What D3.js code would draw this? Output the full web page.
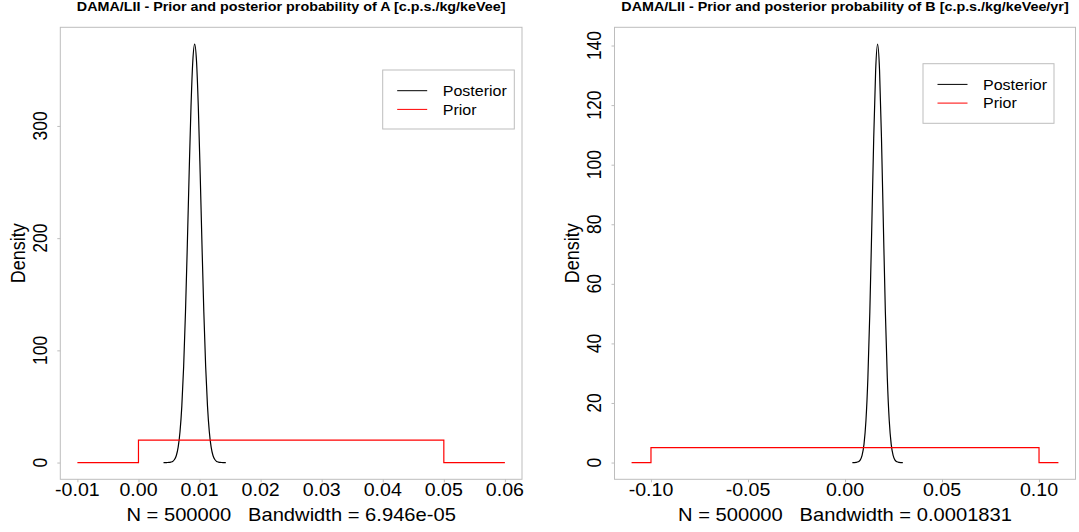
<!DOCTYPE html>
<html>
<head>
<meta charset="utf-8">
<script src="https://cdn.jsdelivr.net/npm/d3@7"></script>
<style>
  html, body { margin: 0; padding: 0; background: #fff; }
  svg { display: block; }
  text { font-family: "Liberation Sans", Arial, Helvetica, sans-serif; fill: #000; white-space: pre; }
</style>
</head>
<body>
<svg id="chart" width="1079" height="532"></svg>
<script>
// ---- Panel A: parameter A [c.p.s./kg/keVee] ----
const postA_x = [0.0041, 0.0044, 0.0047, 0.0050, 0.0053, 0.0056, 0.0059, 0.0062, 0.0065, 0.0068,
                 0.0071, 0.0074, 0.0077, 0.0080, 0.0083, 0.0086, 0.0089, 0.0092, 0.0095, 0.0098,
                 0.0101, 0.0104, 0.0107, 0.0110, 0.0113, 0.0116, 0.0119, 0.0122, 0.0125, 0.0128,
                 0.0131, 0.0134, 0.0137, 0.0140, 0.0143];
const postA_y = [0, 0, 0.04, 0.1, 0.4, 1.0, 2.7, 6.3, 13.7, 27.4,
                 50.5, 85.8, 134.4, 194.1, 258.3, 316.8, 358.1, 373, 358.1, 316.8,
                 258.3, 194.1, 134.4, 85.8, 50.5, 27.4, 13.7, 6.3, 2.7, 1.0,
                 0.4, 0.1, 0.04, 0, 0];
const priorA_x = [-0.01, 0, 0, 0.05, 0.05, 0.06];
const priorA_y = [0, 0, 20, 20, 0, 0];
const ticksA_x = [-0.01, 0, 0.01, 0.02, 0.03, 0.04, 0.05, 0.06];
const ticksA_y = [0, 100, 200, 300];

// ---- Panel B: parameter B [c.p.s./kg/keVee/yr] ----
const postB_x = [0.0038, 0.0048, 0.0058, 0.0068, 0.0078, 0.0088, 0.0098, 0.0108, 0.0118, 0.0128,
                 0.0138, 0.0148, 0.0158, 0.0168, 0.0178, 0.0188, 0.0198, 0.0208, 0.0218, 0.0228,
                 0.0238, 0.0248, 0.0258, 0.0268, 0.0278, 0.0288, 0.0298];
const postB_y = [0, 0.01, 0.06, 0.24, 0.8, 2.4, 6.2, 14.1, 28.5, 50.6,
                 79.1, 108.9, 131.8, 140.5, 131.8, 108.9, 79.1, 50.6, 28.5, 14.1,
                 6.2, 2.4, 0.8, 0.24, 0.06, 0.01, 0];
const priorB_x = [-0.11, -0.1, -0.1, 0.1, 0.1, 0.11];
const priorB_y = [0, 0, 5, 5, 0, 0];
const ticksB_x = [-0.10, -0.05, 0, 0.05, 0.10];
const ticksB_y = [0, 20, 40, 60, 80, 100, 120, 140];

const titles = [
  "DAMA/LII - Prior and posterior probability of A [c.p.s./kg/keVee]",
  "DAMA/LII - Prior and posterior probability of B [c.p.s./kg/keVee/yr]"
];
const xlabels = [
  "N = 500000   Bandwidth = 6.946e-05",
  "N = 500000   Bandwidth = 0.0001831"
];
const ylabel = "Density";
const legendNames = ["Posterior", "Prior"];

// text is drawn slightly wide, matching the device's glyph proportions
const SX = 1.12;
const svg = d3.select("#chart");

function label(g, x, y, str, size, anchor, opts = {}) {
  return g.append("text")
    .attr("transform", `translate(${x},${y}) scale(${SX},1)` + (opts.rot ? " rotate(-90)" : ""))
    .attr("text-anchor", anchor)
    .style("font-size", size + "px")
    .style("font-weight", opts.bold ? "bold" : "normal")
    .text(str);
}

const BOX = "#bdbdbd";
// plain hyphen for negative tick values
const fmt = v => d3.format(".2f")(v).replace("\u2212", "-");

function padded([a, b]) {
  const p = (b - a) * 0.04;
  return [a - p, b + p];
}

function panel(cfg) {
  const g = svg.append("g");
  const x = d3.scaleLinear()
    .domain(padded(d3.extent(cfg.priorX.concat(cfg.postX))))
    .range([cfg.left, cfg.right]);
  const yMax = d3.max(cfg.postY.concat(cfg.priorY));
  const y = d3.scaleLinear()
    .domain([-0.04 * yMax, 1.04 * yMax])
    .range([cfg.bottom, cfg.top]);

  // plot frame
  g.append("rect")
    .attr("x", cfg.left).attr("y", cfg.top)
    .attr("width", cfg.right - cfg.left).attr("height", cfg.bottom - cfg.top)
    .attr("fill", "none").attr("stroke", BOX).attr("stroke-width", 1);

  // axes: short grey ticks, labels set separately
  const ax = g.append("g").attr("transform", `translate(0,${cfg.bottom})`)
    .call(d3.axisBottom(x).tickValues(cfg.ticksX).tickSize(3).tickSizeOuter(0).tickFormat(""));
  const ay = g.append("g").attr("transform", `translate(${cfg.left},0)`)
    .call(d3.axisLeft(y).tickValues(cfg.ticksY).tickSize(3).tickSizeOuter(0).tickFormat(""));
  [ax, ay].forEach(a => {
    a.select(".domain").remove();
    a.selectAll(".tick line").attr("stroke", BOX);
  });

  cfg.ticksX.forEach(v => label(g, x(v), cfg.bottom + 16.4, fmt(v), 17.5, "middle"));
  cfg.ticksY.forEach(v => label(g, cfg.left - 13.6, y(v), String(v), 17.5, "middle", { rot: true }));

  label(g, (cfg.left + cfg.right) / 2, 11, cfg.title, 12.8, "middle", { bold: true });
  label(g, (cfg.left + cfg.right) / 2, 520.5, cfg.xlab, 18, "middle");
  label(g, cfg.left - 35.3, (cfg.top + cfg.bottom) / 2, ylabel, 18, "middle", { rot: true });

  g.append("path")
    .datum(d3.zip(cfg.postX, cfg.postY))
    .attr("d", d3.line().x(d => x(d[0])).y(d => y(d[1])).curve(d3.curveMonotoneX))
    .attr("fill", "none").attr("stroke", "#000").attr("stroke-width", 1.2);
  g.append("path")
    .datum(d3.zip(cfg.priorX, cfg.priorY))
    .attr("d", d3.line().x(d => x(d[0])).y(d => y(d[1])))
    .attr("fill", "none").attr("stroke", "#ff0000").attr("stroke-width", 1.2);

  // legend
  const L = cfg.legend;
  g.append("rect")
    .attr("x", L.x).attr("y", L.y).attr("width", L.w).attr("height", L.h)
    .attr("fill", "#fff").attr("stroke", BOX).attr("stroke-width", 1);
  const colors = ["#000", "#ff0000"];
  legendNames.forEach((name, i) => {
    const ly = L.y + 20.7 + i * 18.7;
    g.append("line")
      .attr("x1", L.x + 14.5).attr("x2", L.x + 44.5)
      .attr("y1", ly).attr("y2", ly)
      .attr("stroke", colors[i]).attr("stroke-width", 1);
    label(g, L.x + 60, ly + 5.2, name, 14.3, "start");
  });
}

panel({
  left: 60.3, right: 522, top: 27.3, bottom: 479.3,
  postX: postA_x, postY: postA_y, priorX: priorA_x, priorY: priorA_y,
  ticksX: ticksA_x, ticksY: ticksA_y,
  title: titles[0], xlab: xlabels[0],
  legend: { x: 382.7, y: 70, w: 131.6, h: 59 }
});

panel({
  left: 614.5, right: 1075.5, top: 27.3, bottom: 479.3,
  postX: postB_x, postY: postB_y, priorX: priorB_x, priorY: priorB_y,
  ticksX: ticksB_x, ticksY: ticksB_y,
  title: titles[1], xlab: xlabels[1],
  legend: { x: 923, y: 63.7, w: 131, h: 59.6 }
});
</script>
</body>
</html>
